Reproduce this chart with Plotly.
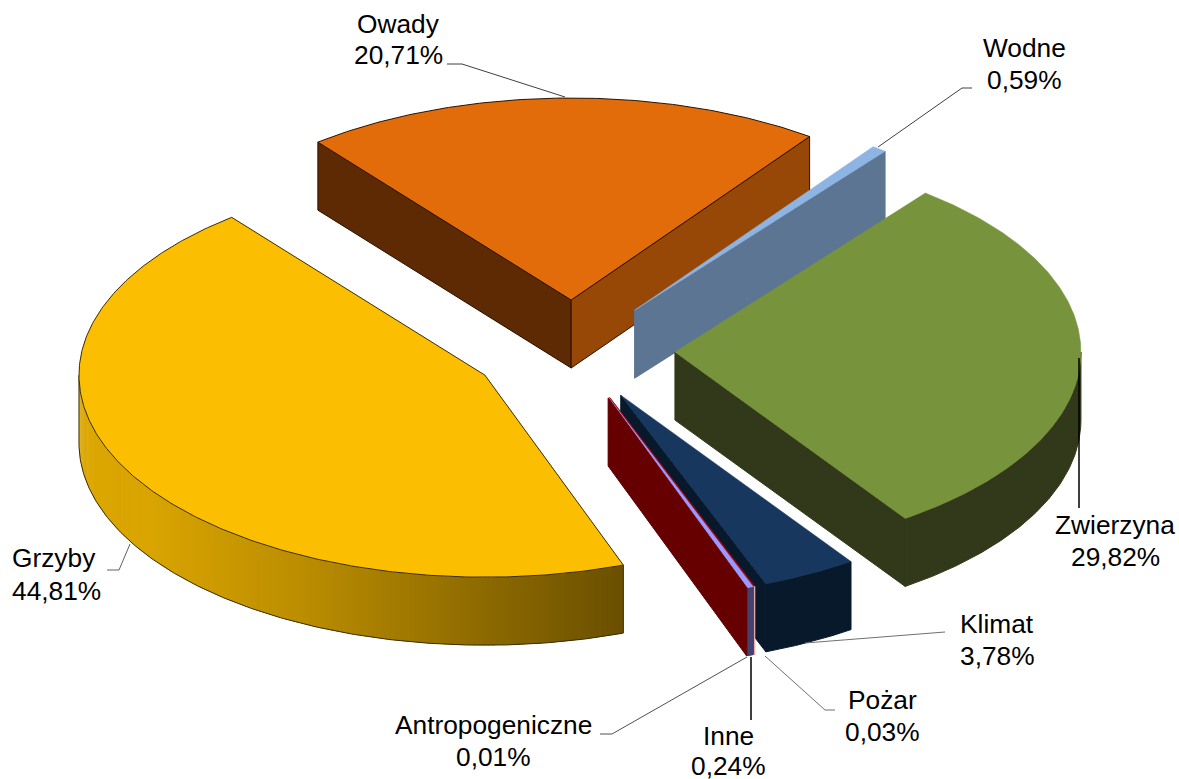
import math
import plotly.graph_objects as go

# ---- data ----
categories = ["Owady", "Wodne", "Zwierzyna", "Klimat", "Pożar", "Inne", "Antropogeniczne", "Grzyby"]
shares = [20.71, 0.59, 29.82, 3.78, 0.03, 0.24, 0.01, 44.81]

# ---- style ----
top_colors = ["#E26B0A", "#8DB4E2", "#77933C", "#17375E", "#C00000", "#9999FF", "#800000", "#FBBE00"]
start_wall_colors = ["#5E2A04", None, None, None, None, None, None, None]
end_wall_colors = ["#974706", "#5C7592", "#31391A", "#07192A", "#8E0000", "#46406E", "#660000", None]
rim_colors = [None, None, "#31391A", "#07192A", "#E8B0B0", "#46406E", "#660000", "gradient"]
outline_colors = ["#2A1200", None, None, None, None, None, None, "#3A2C00"]

# ---- pie projection ----
START_DEG = -38.6
CENTER_X, CENTER_Y = 573.5, 350.5
RADIUS_X, RADIUS_Y = 406, 202
EXPLODE = 0.25
DEPTH = 68

GRAD_STOPS = [(78, (0xDC, 0xA7, 0x00)), (150, (0xDA, 0xA5, 0x00)), (300, (0xBC, 0x8E, 0x00)),
              (623, (0x6B, 0x50, 0x00))]

# ---- labels: x, y of first line, y of second line, anchor ----
label_pos = {
    "Owady": (398.5, 24, 55, "center"), "Wodne": (1024, 48, 80, "center"),
    "Zwierzyna": (1115, 525, 557, "center"), "Klimat": (997, 624, 656, "center"),
    "Pożar": (882, 700, 732, "center"), "Inne": (728, 736, 766, "center"),
    "Antropogeniczne": (493, 725, 757, "center"), "Grzyby": (10, 558, 591, "left"),
}
leaders = [
    ([447, 462, 565], [64, 64, 97], "#404040", 1),
    ([972, 962, 878], [88, 88, 147], "#404040", 1),
    ([1079, 1079], [358, 508], "#000000", 1.5),
    ([945, 805], [632, 643], "#707070", 1),
    ([765, 825, 835], [656, 710, 710], "#707070", 1),
    ([751, 751], [657, 720], "#000000", 1.5),
    ([747, 612, 600], [657, 734, 734], "#505050", 1),
    ([130, 119, 107], [544, 570, 570], "#606060", 1),
]


def grad_color(x):
    for (x0, c0), (x1, c1) in zip(GRAD_STOPS, GRAD_STOPS[1:]):
        if x <= x1:
            t = max(0, (x - x0) / (x1 - x0))
            return "rgb(%d,%d,%d)" % tuple(c0[i] + (c1[i] - c0[i]) * t for i in range(3))
    return "rgb(%d,%d,%d)" % GRAD_STOPS[-1][1]


def arc(apex, t0, t1, n=None):
    n = n or max(2, int(abs(t1 - t0) * 2))
    pts = []
    for i in range(n + 1):
        t = math.radians(t0 + (t1 - t0) * i / n)
        pts.append((apex[0] + RADIUS_X * math.sin(t), apex[1] - RADIUS_Y * math.cos(t)))
    return pts


fig = go.Figure()


def poly(pts, fill, outline=None, width=1):
    xs = [p[0] for p in pts] + [pts[0][0]]
    ys = [p[1] for p in pts] + [pts[0][1]]
    fig.add_trace(go.Scatter(
        x=xs, y=ys, mode="lines", fill="toself", fillcolor=fill,
        line=dict(color=outline or fill, width=width),
        hoverinfo="skip", showlegend=False))


def down(pts):
    return [(x, y + DEPTH) for x, y in pts]


total = sum(shares)
angle = START_DEG
for i, share in enumerate(shares):
    t0, t1 = angle, angle + share / total * 360
    angle = t1
    mid = math.radians((t0 + t1) / 2)
    apex = (CENTER_X + EXPLODE * RADIUS_X * math.sin(mid),
            CENTER_Y - EXPLODE * RADIUS_Y * math.cos(mid))
    outline = outline_colors[i]

    # radial wall at the start of the slice
    if start_wall_colors[i] and math.sin(math.radians(t0)) < 0:
        rim = arc(apex, t0, t0, 1)[0]
        poly([apex, rim, (rim[0], rim[1] + DEPTH), (apex[0], apex[1] + DEPTH)], start_wall_colors[i], outline)
    # radial wall at the end of the slice
    if end_wall_colors[i] and math.sin(math.radians(t1)) > 0:
        rim = arc(apex, t1, t1, 1)[0]
        poly([apex, rim, (rim[0], rim[1] + DEPTH), (apex[0], apex[1] + DEPTH)], end_wall_colors[i], outline)
    # visible part of the outer rim
    r0, r1 = max(t0, 90), min(t1, 270)
    if rim_colors[i] and r1 > r0:
        if rim_colors[i] == "gradient":
            steps = 180
            for s in range(steps):
                a0 = r1 - (r1 - r0) * s / steps
                a1 = max(r1 - (r1 - r0) * (s + 1.6) / steps, r0)
                seg = arc(apex, a0, a1, 3)
                poly(seg + down(seg)[::-1], grad_color((seg[0][0] + seg[-1][0]) / 2), width=0)
            edge = arc(apex, r0, r1)
            fig.add_trace(go.Scatter(
                x=[edge[0][0]] + [p[0] for p in edge] + [edge[-1][0]],
                y=[edge[0][1]] + [p[1] + DEPTH for p in edge] + [edge[-1][1]],
                mode="lines", line=dict(color=outline, width=1), hoverinfo="skip", showlegend=False))
        else:
            seg = arc(apex, r0, r1)
            poly(seg + down(seg)[::-1], rim_colors[i])
    # top face
    poly([apex] + arc(apex, t0, t1), top_colors[i], outline, width=1 if outline else 0.5)

for xs, ys, color, width in leaders:
    fig.add_trace(go.Scatter(x=xs, y=ys, mode="lines", line=dict(color=color, width=width),
                             hoverinfo="skip", showlegend=False))

annotations = []
for name, share in zip(categories, shares):
    x, y1, y2, anchor = label_pos[name]
    value_text = f"{share:.2f}%".replace(".", ",")
    for text, y in ((name, y1), (value_text, y2)):
        annotations.append(dict(x=x, y=y, text=text, showarrow=False, xanchor=anchor, yanchor="middle",
                                font=dict(family="Liberation Sans", size=26.3, color="#000000")))

fig.update_layout(
    width=1179, height=779, margin=dict(l=0, r=0, t=0, b=0),
    paper_bgcolor="#FFFFFF", plot_bgcolor="#FFFFFF", showlegend=False,
    xaxis=dict(range=[0, 1179], visible=False, fixedrange=True),
    yaxis=dict(range=[779, 0], visible=False, fixedrange=True),
    annotations=annotations,
)
fig.write_html("out.html", post_script="document.body.style.margin='0';document.body.style.overflow='hidden';",
               config={"displayModeBar": False})
